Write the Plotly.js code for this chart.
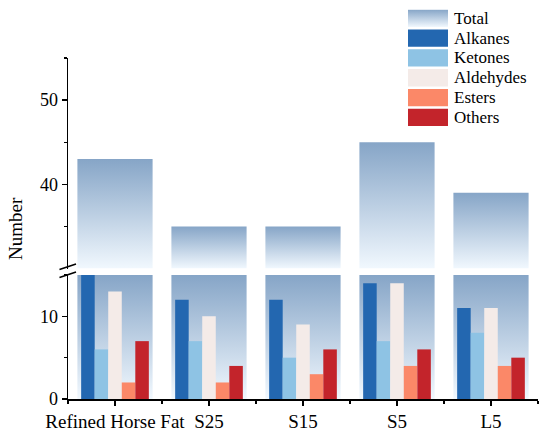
<!DOCTYPE html>
<html>
<head>
<meta charset="utf-8">
<script src="https://cdn.plot.ly/plotly-3.0.1.min.js"></script>
<style>html,body{margin:0;padding:0;background:#fff;}#chart{width:550px;height:435px;}</style>
</head>
<body>
<div id="chart"></div>
<script>
// ---- data ----
var categories = ["Refined Horse Fat", "S25", "S15", "S5", "L5"];
var total     = [43, 35, 35, 45, 39];
var alkanes   = [15, 12, 12, 14, 11];
var ketones   = [6, 7, 5, 7, 8];
var aldehydes = [13, 10, 9, 14, 11];
var esters    = [2, 2, 3, 4, 4];
var others    = [7, 4, 6, 6, 5];
var seriesNames  = ["Alkanes", "Ketones", "Aldehydes", "Esters", "Others"];
var seriesValues = [alkanes, ketones, aldehydes, esters, others];

// ---- styles ----
var seriesColors = ["#2367b0", "#8ec3e4", "#f4ebe8", "#fb8868", "#c3242b"];
var gradTop = "#86a5c7", gradBottom = "#f1f8fe";
var lowerRange = [0, 15];
var upperRange = [30, 55];
var halfW = 0.4;
var FONT = "Liberation Serif";
var gradScale = [[0, gradBottom], [1, gradTop]];
var xIdx = categories.map(function(_, i){ return i; });

// plot area geometry in px (for legend placement)
var W = 550, H = 435, M = {l: 68, r: 12, t: 58, b: 36};
var PW = W - M.l - M.r, PH = H - M.t - M.b;
function px2x(p){ return (p - M.l) / PW; }
function py2y(p){ return (H - M.b - p) / PH; }

var traces = [];
// Total bars: gradient-filled polygons, upper panel and the clipped lower panel part
categories.forEach(function(c, i){
  var x0 = i - halfW, x1 = i + halfW;
  traces.push({
    type: "scatter", mode: "lines", xaxis: "x", yaxis: "y2",
    x: [x0, x0, x1, x1, x0],
    y: [upperRange[0], total[i], total[i], upperRange[0], upperRange[0]],
    fill: "toself", line: {width: 0, color: "rgba(0,0,0,0)"},
    fillgradient: {type: "vertical", colorscale: gradScale},
    name: "Total", showlegend: false, hoverinfo: "skip"
  });
  var top = Math.min(total[i], lowerRange[1]);
  traces.push({
    type: "scatter", mode: "lines", xaxis: "x", yaxis: "y",
    x: [x0, x0, x1, x1, x0],
    y: [lowerRange[0], top, top, lowerRange[0], lowerRange[0]],
    fill: "toself", line: {width: 0, color: "rgba(0,0,0,0)"},
    fillgradient: {type: "vertical", colorscale: gradScale},
    name: "Total", showlegend: false, hoverinfo: "skip"
  });
});

// Category bars on an overlaying axis so they sit above the totals
seriesNames.forEach(function(n, k){
  traces.push({
    type: "bar", xaxis: "x", yaxis: "y3", x: xIdx, y: seriesValues[k], name: n,
    marker: {color: seriesColors[k], line: {width: 0}}, showlegend: false
  });
});

var axisCommon = {
  showline: true, linecolor: "#000", linewidth: 1.5, showgrid: false, zeroline: false,
  ticks: "outside", ticklen: 5, tickwidth: 1.3, tickcolor: "#000",
  tickfont: {family: FONT, size: 18, color: "#000"}
};
var minorCommon = {tickmode: "array", ticks: "outside", ticklen: 3, tickwidth: 1.2, tickcolor: "#000"};

// ---- legend built from names/colors ----
var legendNames = ["Total"].concat(seriesNames);
var rowCenters = [18.3, 38.1, 57.9, 77.7, 97.6, 117.4];
var swX0 = px2x(408), swX1 = px2x(448), swH = 17.4;
var shapes = [
  // axis break marks
  {type: "line", xref: "paper", yref: "paper", x0: px2x(59.5), x1: px2x(76), y0: py2y(269.5), y1: py2y(264), line: {color: "#000", width: 1.5}},
  {type: "line", xref: "paper", yref: "paper", x0: px2x(59.5), x1: px2x(76), y0: py2y(277.5), y1: py2y(272), line: {color: "#000", width: 1.5}}
];
var annotations = [{
  text: "Number", xref: "paper", yref: "paper", x: px2x(15), y: py2y(229),
  xanchor: "center", yanchor: "middle", textangle: -90, showarrow: false,
  font: {family: FONT, size: 19, color: "#000"}
}];
legendNames.forEach(function(n, k){
  var cy = rowCenters[k];
  if (k > 0) {
    shapes.push({type: "rect", xref: "paper", yref: "paper", x0: swX0, x1: swX1,
      y0: py2y(cy + swH / 2), y1: py2y(cy - swH / 2), fillcolor: seriesColors[k - 1], line: {width: 0}});
  }
  annotations.push({text: n, xref: "paper", yref: "paper", x: px2x(452), y: py2y(cy),
    xanchor: "left", yanchor: "middle", showarrow: false, font: {family: FONT, size: 17, color: "#000"}});
});
var gradSvg = '<svg xmlns="http://www.w3.org/2000/svg" width="40" height="17" preserveAspectRatio="none">' +
  '<defs><linearGradient id="g" x1="0" y1="0" x2="0" y2="1"><stop offset="0" stop-color="' + gradTop + '"/>' +
  '<stop offset="1" stop-color="' + gradBottom + '"/></linearGradient></defs><rect width="40" height="17" fill="url(#g)"/></svg>';

var layout = {
  width: W, height: H,
  margin: M,
  paper_bgcolor: "#fff", plot_bgcolor: "rgba(0,0,0,0)",
  barmode: "group", bargap: 0.28, bargroupgap: 0,
  font: {family: FONT, color: "#000"},
  showlegend: false,
  xaxis: Object.assign({}, axisCommon, {
    anchor: "y", range: [-0.5, 4.5], tickmode: "array", tickvals: xIdx, ticktext: categories,
    tickfont: {family: FONT, size: 19, color: "#000"},
    minor: Object.assign({tickvals: [-0.5, 0.5, 1.5, 2.5, 3.5, 4.5]}, minorCommon)
  }),
  yaxis: Object.assign({}, axisCommon, {
    anchor: "x", domain: [0, py2y(275)], range: lowerRange, tickmode: "array", tickvals: [0, 10],
    minor: Object.assign({tickvals: [5, 15]}, minorCommon)
  }),
  yaxis3: {overlaying: "y", anchor: "x", range: lowerRange, visible: false, showgrid: false, zeroline: false},
  yaxis2: Object.assign({}, axisCommon, {
    anchor: "x", domain: [py2y(268.6), 1], range: upperRange, tickmode: "array", tickvals: [40, 50],
    minor: Object.assign({tickvals: [35, 45, 55]}, minorCommon)
  }),
  annotations: annotations,
  shapes: shapes,
  images: [{
    source: "data:image/svg+xml;charset=utf-8," + encodeURIComponent(gradSvg),
    xref: "paper", yref: "paper", x: swX0, y: py2y(rowCenters[0] - swH / 2),
    sizex: swX1 - swX0, sizey: swH / PH, xanchor: "left", yanchor: "top", sizing: "stretch", layer: "above"
  }]
};

Plotly.newPlot("chart", traces, layout, {displayModeBar: false, staticPlot: true});
</script>
</body>
</html>
